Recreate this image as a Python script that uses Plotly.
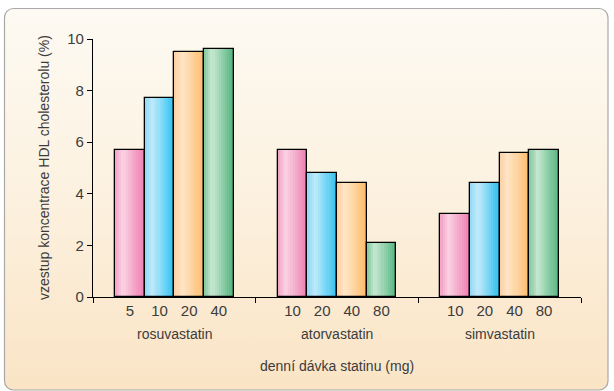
import base64
import plotly.graph_objects as go

# ---- data ----
groups = ["rosuvastatin", "atorvastatin", "simvastatin"]
dose_labels = [["5", "10", "20", "40"], ["10", "20", "40", "80"], ["10", "20", "40", "80"]]
series1 = [5.7, 5.7, 3.2]   # 1st dose of each statin
series2 = [7.7, 4.8, 4.4]   # 2nd dose
series3 = [9.5, 4.4, 5.6]   # 3rd dose
series4 = [9.6, 2.1, 5.7]   # 4th dose
y_ticks = [0, 2, 4, 6, 8, 10]
y_title = "vzestup koncentrace HDL cholesterolu (%)"
x_title = "denní dávka statinu (mg)"

series = [series1, series2, series3, series4]

# ---- styles ----
W, H = 614, 391
L, R, T, B = 93, 33, 39, 94
FONT = "Liberation Sans, Arial, sans-serif"
TXT = "#3c3c3c"
grads = [
    ("#F2A2C5", "#FAD3E3", "#EE7BAF"),
    ("#93D9F6", "#BFEAFB", "#2CC0EF"),
    ("#FDCF9E", "#FFE6C8", "#FDBC6A"),
    ("#7FC89C", "#C7E7D1", "#52B57E"),
]
bw = 0.182
nslice = 14
xc = list(range(len(groups)))


def hex2rgb(h):
    h = h.lstrip("#")
    return tuple(int(h[i:i + 2], 16) for i in (0, 2, 4))


def mix(c1, c2, t):
    a, b = hex2rgb(c1), hex2rgb(c2)
    return "rgb(%d,%d,%d)" % tuple(round(a[i] + (b[i] - a[i]) * t) for i in range(3))


def grad_color(stops, t):
    left, light, right = stops
    p = 0.27
    if t < p:
        return mix(left, light, t / p)
    return mix(light, right, (t - p) / (1 - p))


fig = go.Figure()
for si, vals in enumerate(series):
    off0 = -2 * bw + si * bw
    for k in range(nslice):
        t = (k + 0.5) / nslice
        fig.add_trace(go.Bar(
            x=xc, y=vals, offset=off0 + k * bw / nslice, width=bw - k * bw / nslice,
            marker=dict(color=grad_color(grads[si], t), line=dict(width=0)),
            showlegend=False, hoverinfo="skip"))
    fig.add_trace(go.Bar(
        x=xc, y=vals, offset=off0, width=bw,
        marker=dict(color="rgba(0,0,0,0)", line=dict(color="#000", width=1.3)),
        showlegend=False, hoverinfo="skip"))

tickvals, ticktext = [], []
for gi, labs in enumerate(dose_labels):
    for si, lab in enumerate(labs):
        tickvals.append(xc[gi] - 1.5 * bw + si * bw)
        ticktext.append(lab)

svg = f'''<svg xmlns="http://www.w3.org/2000/svg" width="{W}" height="{H}" viewBox="0 0 {W} {H}" preserveAspectRatio="none">
<defs><linearGradient id="g" x1="0" y1="0" x2="0" y2="1">
<stop offset="0" stop-color="#FDFAF3"/><stop offset="0.5" stop-color="#FCF1DF"/><stop offset="1" stop-color="#FAE4C5"/></linearGradient></defs>
<rect x="4.5" y="8.5" width="603.5" height="381.5" rx="9" ry="9" fill="url(#g)" stroke="#A8A8A8" stroke-width="1.2"/>
</svg>'''
src = "data:image/svg+xml;base64," + base64.b64encode(svg.encode()).decode()
pw, ph = W - L - R, H - T - B
fig.add_layout_image(dict(
    source=src, xref="paper", yref="paper", x=-L / pw, y=1 + T / ph,
    sizex=W / pw, sizey=H / ph, xanchor="left", yanchor="top",
    sizing="stretch", layer="below"))

for gi, g in enumerate(groups):
    fig.add_annotation(x=xc[gi], y=0, xref="x", yref="paper", yanchor="top",
                       yshift=-27, text=g, showarrow=False,
                       font=dict(family=FONT, size=14, color=TXT))
fig.add_annotation(x=0.5, y=0, xref="paper", yref="paper", yanchor="top",
                   yshift=-59, text=x_title, showarrow=False,
                   font=dict(family=FONT, size=14, color=TXT))
fig.add_annotation(x=-(L - 44) / pw, y=0.5, xref="paper", yref="paper",
                   xanchor="center", yanchor="middle", textangle=-90,
                   text=y_title, showarrow=False,
                   font=dict(family=FONT, size=14, color=TXT))

fig.update_layout(
    width=W, height=H, margin=dict(l=L, r=R, t=T, b=B, autoexpand=False),
    paper_bgcolor="white", plot_bgcolor="rgba(0,0,0,0)",
    barmode="overlay", bargap=0,
    font=dict(family=FONT, size=14, color=TXT),
    xaxis=dict(range=[-0.5, len(groups) - 0.5], tickvals=tickvals, ticktext=ticktext,
               ticks="", showgrid=False, zeroline=False, showline=True, automargin=False,
               linecolor="#000", linewidth=1.3, tickfont=dict(size=15, color=TXT)),
    xaxis2=dict(range=[-0.5, len(groups) - 0.5], overlaying="x", side="bottom",
                tickvals=[i - 0.5 for i in range(len(groups) + 1)], showticklabels=False,
                ticks="outside", ticklen=5, tickwidth=1.3, tickcolor="#000", automargin=False,
                showgrid=False, zeroline=False, showline=False, anchor="y"),
    yaxis=dict(range=[0, 10], tickvals=y_ticks, ticks="outside", ticklen=5,
               tickwidth=1.3, tickcolor="#000", showgrid=False, zeroline=False,
               showline=True, linecolor="#000", linewidth=1.3, automargin=False,
               tickfont=dict(size=15, color=TXT)),
)
fig.add_trace(go.Scatter(x=[None], y=[None], xaxis="x2", showlegend=False, hoverinfo="skip"))

fig.write_html("out.html", config={"displayModeBar": False},
               post_script="document.body.style.margin='0';document.body.style.padding='0';")
